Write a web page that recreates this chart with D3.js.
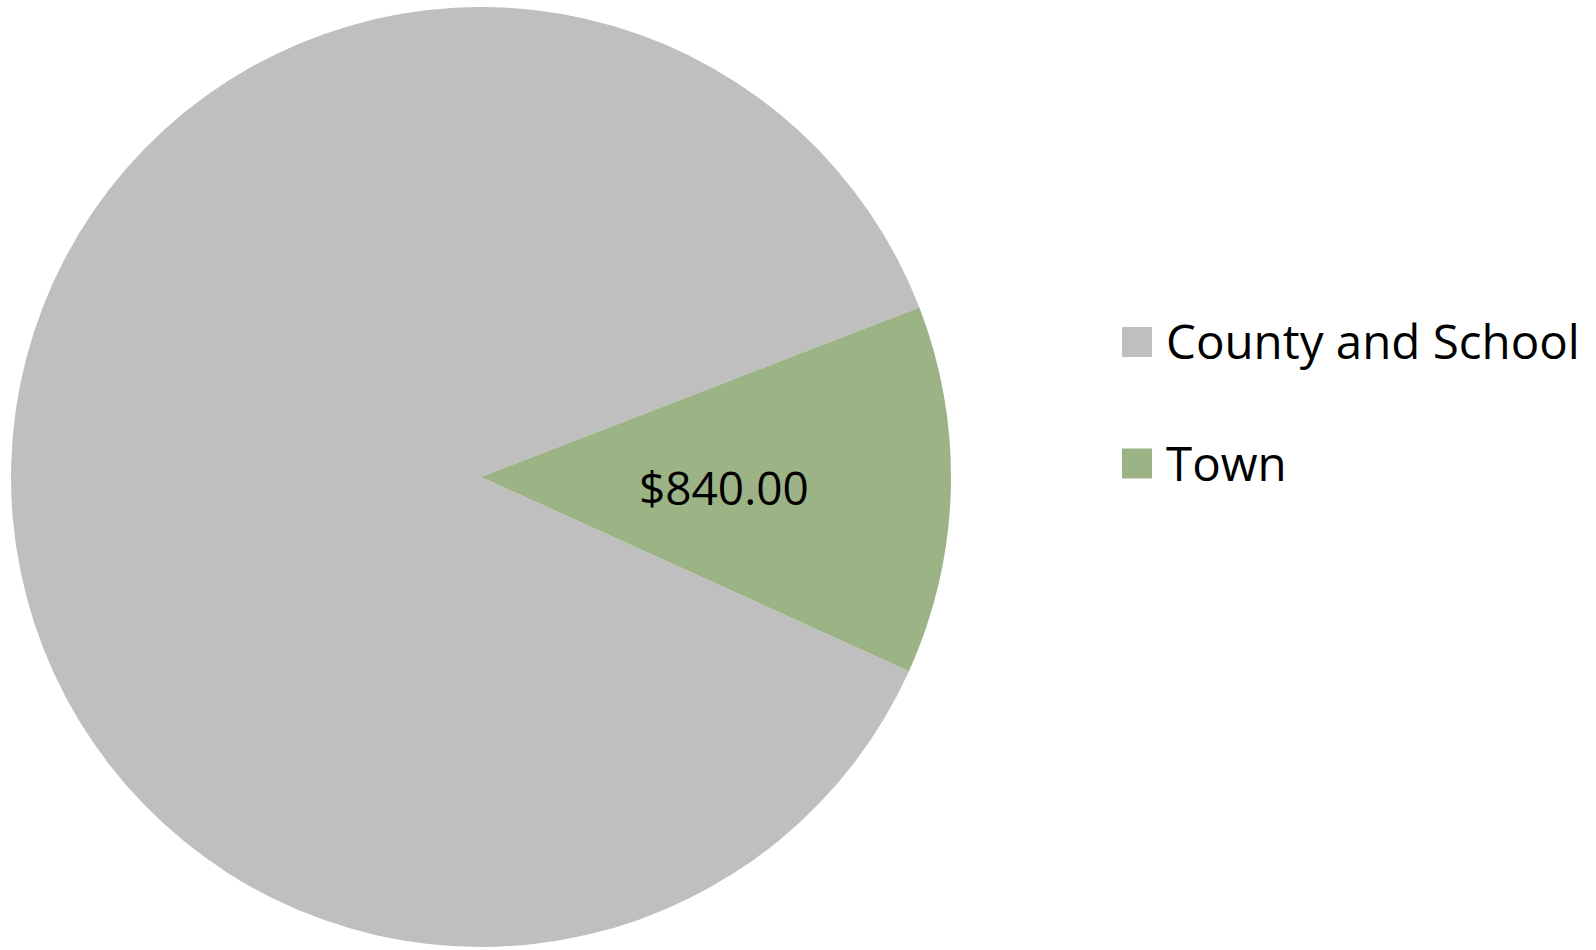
<!doctype html>
<html lang="en">
<head>
<meta charset="utf-8">
<title>Tax split</title>
<script src="https://cdnjs.cloudflare.com/ajax/libs/d3/7.8.5/d3.min.js"></script>
<style>
  html, body { margin: 0; padding: 0; background: #fff; }
  svg text { font-family: "Open Sans", "Noto Sans", sans-serif; fill: #000; }
</style>
</head>
<body>
<div id="viz"></div>
<script>
// Data
var categories = ["County and School", "Town"];
var values = [5800, 840];
var colors = ["#bfbfbf", "#9cb386"];
var shownLabels = [false, true];

(function(d3) {

  var w = 1596, h = 950;
  var cx = 481, cy = 477, radius = 470;

  var svg = d3.select("#viz")
    .append("svg")
    .attr("width", w)
    .attr("height", h);

  // Excel style: first slice rotated, slices go clockwise
  var rotation = 114.4 * Math.PI / 180;
  var pie = d3.pie()
    .sort(null)
    .startAngle(rotation)
    .endAngle(rotation + 2 * Math.PI)
    .value(function(d) { return d; });

  var arc = d3.arc().innerRadius(0).outerRadius(radius);

  var g = svg.append("g").attr("transform", "translate(" + cx + "," + cy + ")");
  var slices = pie(values);

  g.selectAll("path")
    .data(slices)
    .enter()
    .append("path")
    .attr("d", arc)
    .attr("fill", function(d, i) { return colors[i]; });

  var fmt = d3.format("$,.2f");
  g.selectAll("text.lbl")
    .data(slices.filter(function(d, i) { return shownLabels[i]; }))
    .enter()
    .append("text")
    .attr("class", "lbl")
    .attr("transform", function(d) {
      var c = arc.centroid(d);
      return "translate(" + (c[0] + 8) + "," + (c[1] + 5) + ")";
    })
    .attr("text-anchor", "middle")
    .attr("dy", "0.36em")
    .style("font-size", "46px")
    .text(function(d) { return fmt(d.data); });

  // Legend
  var legend = svg.append("g").attr("transform", "translate(1122,342)");
  var item = legend.selectAll("g")
    .data(categories)
    .enter()
    .append("g")
    .attr("transform", function(d, i) { return "translate(0," + (i * 121.5) + ")"; });

  item.append("rect")
    .attr("x", 0)
    .attr("y", -15)
    .attr("width", 30)
    .attr("height", 30)
    .attr("fill", function(d, i) { return colors[i]; });

  item.append("text")
    .attr("x", 44)
    .attr("dy", "0.36em")
    .style("font-size", "47.5px")
    .text(function(d) { return d; });

})(d3);
</script>
</body>
</html>
